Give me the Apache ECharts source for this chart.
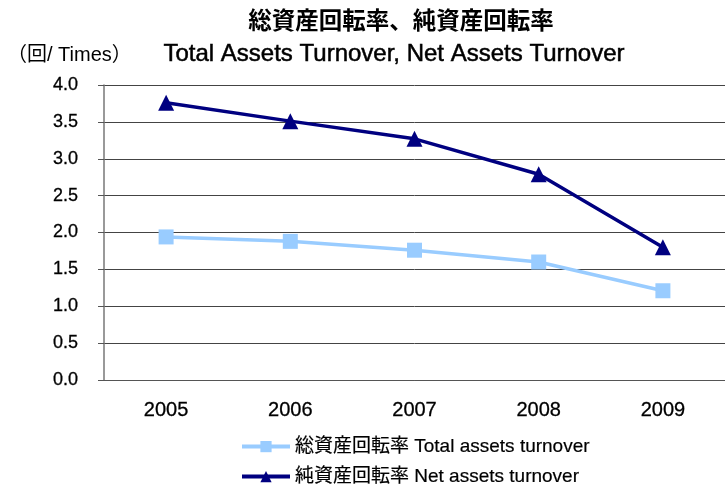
<!DOCTYPE html>
<html><head><meta charset="utf-8">
<script src="https://cdn.jsdelivr.net/npm/echarts@6/dist/echarts.min.js"></script>
<style>html,body{margin:0;padding:0;background:#fff}#c{width:725px;height:487px}</style>
</head><body><div id="c"></div>
<script>
var years = ['2005','2006','2007','2008','2009'];
var totalAssetsTurnover = [1.94, 1.88, 1.76, 1.60, 1.21];
var netAssetsTurnover = [3.76, 3.51, 3.27, 2.79, 1.80];
var yTicks = ['0.0','0.5','1.0','1.5','2.0','2.5','3.0','3.5','4.0'];
var nameTotal = '総資産回転率 Total assets turnover';
var nameNet = '純資産回転率 Net assets turnover';

var FONT = '"Liberation Sans", Arial, "Noto Sans CJK JP", sans-serif';
var legendText = { fontFamily: FONT, fontSize: 19, color: '#000', textBorderColor: '#000', textBorderWidth: 0.2 };
var chart = echarts.init(document.getElementById('c'));
chart.setOption({
  animation: false,
  textStyle: { fontFamily: FONT },
  title: [
    { text: '総資産回転率、純資産回転率', left: 396, top: 3, textAlign: 'center',
      textStyle: { fontFamily: '"Noto Sans CJK JP", sans-serif', fontSize: 23.5, fontWeight: 'bold', color: '#000' } },
    { text: 'Total Assets Turnover, Net Assets Turnover', left: 389, top: 37, textAlign: 'center',
      textStyle: { fontFamily: FONT, fontSize: 24, fontWeight: 'normal', color: '#000', textBorderColor: '#000', textBorderWidth: 0.5 } },
    { text: '（回/ Times）', left: 2, top: 40,
      textStyle: { fontFamily: FONT, fontSize: 20, fontWeight: 'normal', color: '#000' } }
  ],
  grid: { left: 104, top: 85, width: 625, height: 295 },
  legend: [
    { left: 240, top: 437, itemWidth: 48, itemHeight: 14, padding: 0, itemGap: 4,
      lineStyle: { width: 4 }, textStyle: legendText, data: [ nameTotal ] },
    { left: 240, top: 467, itemWidth: 48, itemHeight: 14, padding: 0, itemGap: 4,
      lineStyle: { width: 4 }, textStyle: legendText, data: [ nameNet ] }
  ],
  xAxis: {
    type: 'category', data: years, boundaryGap: true,
    axisLine: { lineStyle: { color: '#555', width: 1 } },
    axisTick: { inside: true, length: 6, lineStyle: { color: '#333' } },
    axisLabel: { color: '#000', fontSize: 20, margin: 20, fontFamily: FONT, textBorderColor: '#000', textBorderWidth: 0.3 }
  },
  yAxis: {
    type: 'value', min: 0, max: 4, interval: 0.5,
    axisLine: { show: true, lineStyle: { color: '#777', width: 1.5 } },
    axisTick: { show: true, length: 6, lineStyle: { color: '#555' } },
    axisLabel: { color: '#000', fontSize: 18, margin: 26, fontFamily: FONT, textBorderColor: '#000', textBorderWidth: 0.3,
      formatter: function (v) { return yTicks[Math.round(v / 0.5)]; } },
    splitLine: { lineStyle: { color: '#444', width: 1 } }
  },
  series: [
    { name: nameTotal, type: 'line', data: totalAssetsTurnover,
      symbol: 'rect', symbolSize: 15,
      lineStyle: { color: '#99ccff', width: 3.5 },
      itemStyle: { color: '#99ccff' } },
    { name: nameNet, type: 'line', data: netAssetsTurnover,
      symbol: 'triangle', symbolSize: 16,
      lineStyle: { color: '#000080', width: 3.5 },
      itemStyle: { color: '#000080' } }
  ]
});
</script></body></html>
